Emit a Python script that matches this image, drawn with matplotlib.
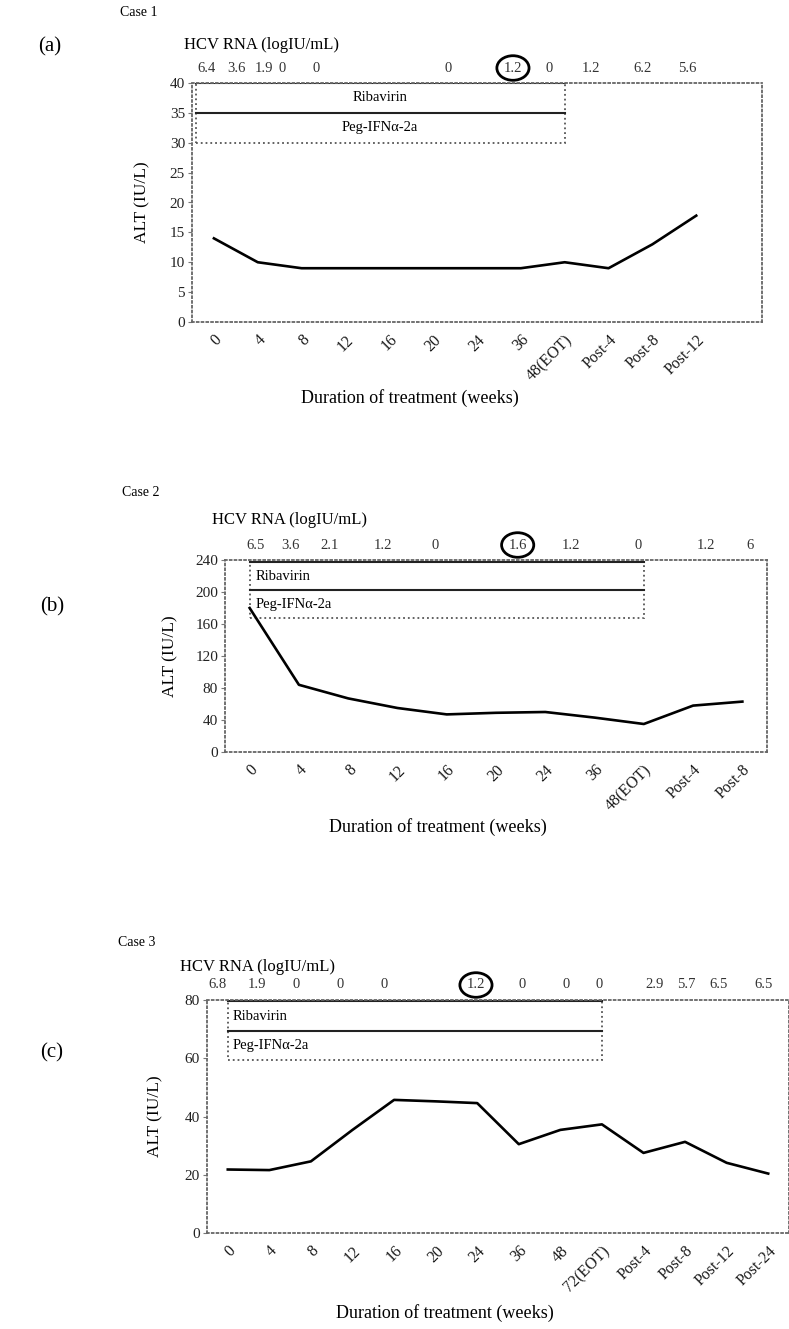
import matplotlib
matplotlib.use("Agg")
import matplotlib.pyplot as plt
from matplotlib.transforms import blended_transform_factory
from matplotlib.patches import Rectangle

plt.rcParams['font.family'] = ['Liberation Serif', 'DejaVu Serif']

W, H = 789, 1329

# Case 1
weeks_a = ["0", "4", "8", "12", "16", "20", "24", "36", "48(EOT)",
           "Post-4", "Post-8", "Post-12"]
alt_a = [14, 10, 9, 9, 9, 9, 9, 9, 10, 9, 13, 17.8]
hcv_a = ["6.4", "3.6", "1.9", "0", "0", "0", "1.2", "0", "1.2", "6.2", "5.6"]
hcv_a_x = [-0.16, 0.52, 1.14, 1.55, 2.33, 5.34, 6.82, 7.65, 8.6, 9.78, 10.8]

# Case 2
weeks_b = ["0", "4", "8", "12", "16", "20", "24", "36", "48(EOT)",
           "Post-4", "Post-8"]
alt_b = [180, 84, 67, 55, 47, 49, 50, 43, 35, 58, 63]
hcv_b = ["6.5", "3.6", "2.1", "1.2", "0", "1.6", "1.2", "0", "1.2", "6"]
hcv_b_x = [0.12, 0.83, 1.62, 2.7, 3.76, 5.44, 6.52, 7.89, 9.25, 10.15]

# Case 3
weeks_c = ["0", "4", "8", "12", "16", "20", "24", "36", "48", "72(EOT)",
           "Post-4", "Post-8", "Post-12", "Post-24"]
alt_c = [21.8, 21.6, 24.6, 35.4, 45.7, 45.2, 44.6, 30.5, 35.4, 37.3,
         27.5, 31.3, 24.1, 20.4]
hcv_c = ["6.8", "1.9", "0", "0", "0", "1.2", "0", "0", "0", "2.9", "5.7",
         "6.5", "6.5"]
hcv_c_x = [-0.24, 0.69, 1.64, 2.7, 3.77, 5.97, 7.08, 8.15, 8.93, 10.26,
           11.02, 11.8, 12.9]


def px(x, y):
    return x / W, 1 - y / H


def panel(rect, weeks, alt, nslots, ymax, yticks, eot, box_y, centered,
          hcv, hcv_x, circled, case, tag, case_xy, tag_xy, hcv_xy,
          ylab_x, xlab_xy):
    l, t, r, b = rect
    ax = fig.add_axes([l / W, 1 - b / H, (r - l) / W, (b - t) / H])
    x = list(range(len(weeks)))
    ax.plot(x, alt, color='black', lw=1.9, zorder=3)
    ax.set_xlim(-0.5, nslots - 0.5)
    ax.set_ylim(0, ymax)
    ax.set_yticks(yticks)
    ax.set_xticks(x)
    ax.set_xticklabels(weeks, rotation=45, ha='right', rotation_mode='anchor',
                       fontsize=11.5, color='#1a1a1a')
    ax.tick_params(axis='x', length=0, pad=7)
    ax.tick_params(axis='y', length=3, color='#777777', labelsize=11,
                   labelcolor='#222222', pad=2)
    for s in ax.spines.values():
        s.set_linestyle(':')
        s.set_color('#666666')
        s.set_linewidth(1.3)

    # treatment bars: Ribavirin on top, Peg-IFN below, until EOT
    x0, x1 = box_y[0], weeks.index(eot)
    y_top, y_mid, y_bot = box_y[1:]
    ax.add_patch(Rectangle((x0, y_bot), x1 - x0, y_top - y_bot, fill=False,
                           ec='#555555', ls=':', lw=1.3, zorder=2))
    ax.plot([x0, x1], [y_top, y_top], color='#222222', lw=1.5, zorder=2)
    ax.plot([x0, x1], [y_mid, y_mid], color='#222222', lw=1.5, zorder=2)
    if centered:
        xt, ha = (x0 + x1) / 2, 'center'
    else:
        xt, ha = x0 + 0.12, 'left'
    ax.text(xt, (y_top + y_mid) / 2, "Ribavirin", ha=ha, va='center',
            fontsize=10.5)
    ax.text(xt, (y_mid + y_bot) / 2, "Peg-IFN\u03b1-2a", ha=ha, va='center',
            fontsize=10.5)

    trans = blended_transform_factory(ax.transData, ax.transAxes)
    off = 15 / (b - t)
    for i, (s, xp) in enumerate(zip(hcv, hcv_x)):
        kw = {}
        if i == circled:
            kw['bbox'] = dict(boxstyle='ellipse,pad=0.15', fc='none',
                              ec='black', lw=2)
        ax.text(xp, 1 + off, s, transform=trans, ha='center', va='center',
                fontsize=10.5, color='#333333', clip_on=False, **kw)

    fig.text(*px(*case_xy), case, fontsize=10, va='center')
    fig.text(*px(*tag_xy), tag, fontsize=15, va='center', ha='center')
    fig.text(*px(*hcv_xy), "HCV RNA (logIU/mL)", fontsize=12, va='center')
    fig.text(*px(ylab_x, (t + b) / 2), "ALT (IU/L)", rotation=90,
             fontsize=12.5, va='center', ha='center')
    fig.text(*px(*xlab_xy), "Duration of treatment (weeks)", fontsize=13,
             va='center', ha='center')
    return ax


fig = plt.figure(figsize=(W / 100, H / 100), dpi=100)

panel((192, 83, 762, 322), weeks_a, alt_a, 13, 40, range(0, 41, 5),
      "48(EOT)", (-0.42, 40, 35, 30), True, hcv_a, hcv_a_x, 6,
      "Case 1", "(a)", (120, 13), (50, 47), (184, 45), 142, (410, 398))

panel((225, 560, 767, 752), weeks_b, alt_b, 11, 240, range(0, 241, 40),
      "48(EOT)", (0.0, 238, 202, 167), False, hcv_b, hcv_b_x, 5,
      "Case 2", "(b)", (122, 493), (52, 607), (212, 520), 170, (438, 827))

panel((207, 1000, 789, 1233), weeks_c, alt_c, 14, 80, range(0, 81, 20),
      "72(EOT)", (0.0, 79.5, 69.5, 59.5), False, hcv_c, hcv_c_x, 5,
      "Case 3", "(c)", (118, 942), (52, 1053), (180, 967), 155, (445, 1313))

fig.savefig("out.png", dpi=100)
